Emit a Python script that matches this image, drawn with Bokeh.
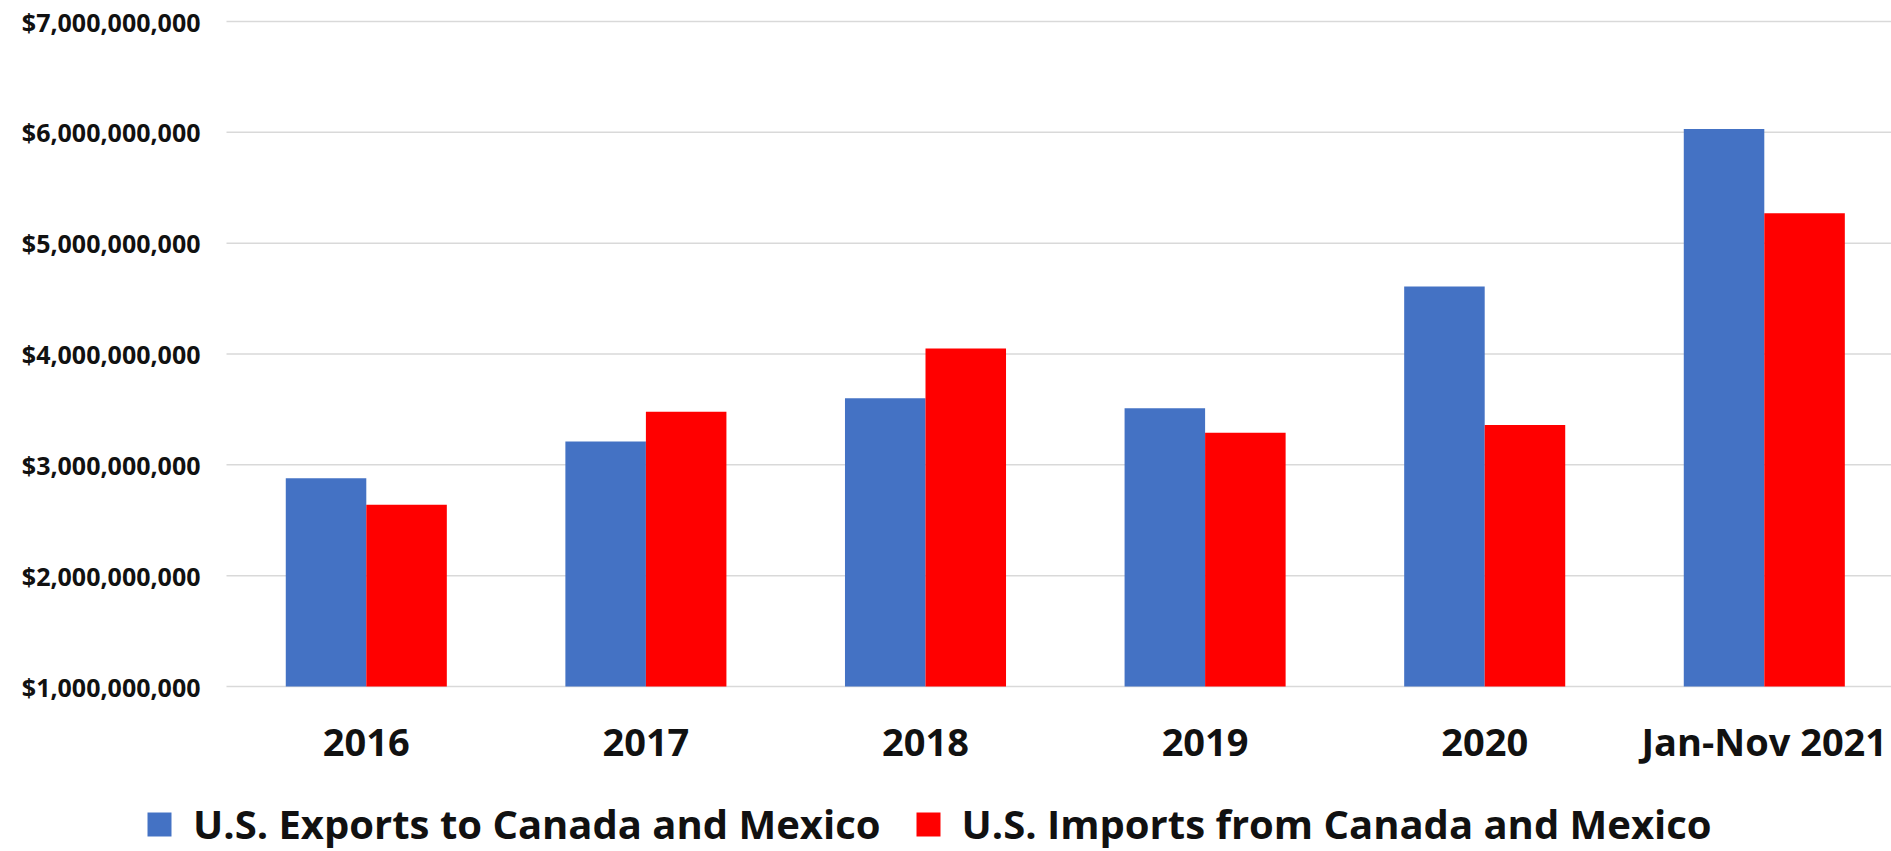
from bokeh.plotting import figure
from bokeh.models import Range1d, FixedTicker, NumeralTickFormatter, ColumnDataSource, Legend, LegendItem
from bokeh.embed import file_html
from bokeh.resources import INLINE

categories = ["2016", "2017", "2018", "2019", "2020", "Jan-Nov 2021"]
exports = [2.88e9, 3.21e9, 3.60e9, 3.51e9, 4.61e9, 6.03e9]
imports = [2.64e9, 3.48e9, 4.05e9, 3.29e9, 3.36e9, 5.27e9]
y_ticks = [1e9, 2e9, 3e9, 4e9, 5e9, 6e9, 7e9]
series_names = ["U.S. Exports to Canada and Mexico", "U.S. Imports from Canada and Mexico"]

FONT = "Open Sans"
BLUE = "#4472C4"
RED = "#FF0000"
TXT = "#111111"

# layout constants (pixels)
W, H = 1891, 851
plot_left, plot_bottom, plot_top = 226, 686, 21
cat_px = 279.6
px_per_unit = (plot_bottom - plot_top) / (y_ticks[-1] - y_ticks[0])

x_start = -plot_left / cat_px
x_end = (W - plot_left) / cat_px
y_end = y_ticks[-1] + plot_top / px_per_unit
y_start = y_ticks[0] - (H - plot_bottom) / px_per_unit

centers = [i + 0.5 for i in range(len(categories))]
bw = 0.288
src = ColumnDataSource(dict(
    xe=[c - bw / 2 for c in centers],
    xi=[c + bw / 2 for c in centers],
    exports=exports,
    imports=imports,
))

p = figure(width=W, height=H, output_backend="svg", toolbar_location=None,
           x_range=Range1d(x_start, x_end), y_range=Range1d(y_start, y_end),
           min_border_left=0, min_border_right=0, min_border_top=0, min_border_bottom=0)
p.outline_line_color = None
p.background_fill_color = "white"
p.border_fill_color = "white"
p.xgrid.grid_line_color = None
p.ygrid.grid_line_color = None

# horizontal gridlines over the plot area only
p.segment(x0=[0] * len(y_ticks), x1=[x_end] * len(y_ticks), y0=y_ticks, y1=y_ticks,
          line_color="#D9D9D9", line_width=1.5)

r1 = p.vbar(x="xe", top="exports", bottom=y_ticks[0], width=bw, source=src, fill_color=BLUE, line_color=None)
r2 = p.vbar(x="xi", top="imports", bottom=y_ticks[0], width=bw, source=src, fill_color=RED, line_color=None)

# axes, pinned inside the frame
p.xaxis.fixed_location = y_ticks[0]
p.xaxis.ticker = FixedTicker(ticks=centers)
p.xaxis.major_label_overrides = {c: lab for c, lab in zip(centers, categories)}
p.xaxis.axis_line_color = None
p.xaxis.major_tick_line_color = None
p.xaxis.minor_tick_line_color = None
p.xaxis.major_tick_out = 0
p.xaxis.major_label_standoff = 28
p.xaxis.major_label_text_font = FONT
p.xaxis.major_label_text_font_style = "bold"
p.xaxis.major_label_text_font_size = "38px"
p.xaxis.major_label_text_color = TXT

p.yaxis.fixed_location = 0
p.yaxis.ticker = FixedTicker(ticks=y_ticks)
p.yaxis.formatter = NumeralTickFormatter(format="$0,0")
p.yaxis.axis_line_color = None
p.yaxis.major_tick_line_color = None
p.yaxis.minor_tick_line_color = None
p.yaxis.major_tick_out = 0
p.yaxis.major_label_standoff = 26
p.yaxis.major_label_text_font = FONT
p.yaxis.major_label_text_font_style = "bold"
p.yaxis.major_label_text_font_size = "25px"
p.yaxis.major_label_text_color = TXT

legend = Legend(items=[LegendItem(label=series_names[0], renderers=[r1]),
                       LegendItem(label=series_names[1], renderers=[r2])],
                orientation="horizontal", location=(144, 0),
                glyph_width=30, glyph_height=30, label_standoff=19, spacing=32,
                padding=0, margin=0, border_line_color=None, background_fill_alpha=0,
                label_text_font=FONT, label_text_font_style="bold",
                label_text_font_size="40px", label_text_color=TXT)
p.add_layout(legend, "center")

open("out.html", "w").write(file_html(p, INLINE))
